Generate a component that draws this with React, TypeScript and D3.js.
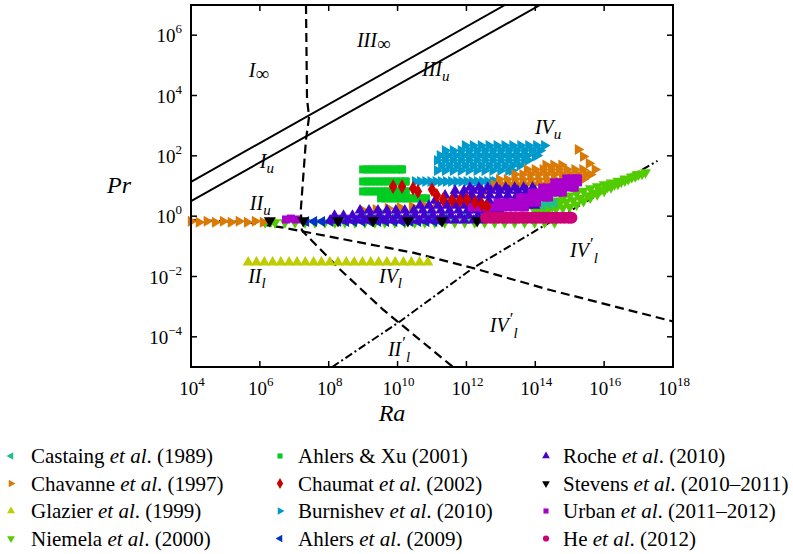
import React from "react";
import * as d3 from "d3";

type Pt = [number, number]; // [log10 Ra, log10 Pr]
type Row = [number, number[]]; // [log10 Pr, list of log10 Ra]

const raDomain: [number, number] = [1e4, 1e18];
const prDomain: [number, number] = [1e-5, 1e7];
const raTickExps = [4, 6, 8, 10, 12, 14, 16, 18];
const prTickExps = [-4, -2, 0, 2, 4, 6];

// regime boundaries (log10 Ra, log10 Pr)
const solidUpper: Pt[] = [[4, 1.14], [13.12, 7]];
const solidLower: Pt[] = [[4, 0.5], [14.14, 7]];
const dashedEpsU: Pt[] = [[7.34, 7], [7.37, 3.87], [7.43, 3.3], [7.34, 2.54], [7.19, 0.22], [7.22, -0.47], [8.33, -1.77], [9.58, -3.1], [11.61, -5]];
const dashedEpsTheta: Pt[] = [[4, -0.13], [5.6, -0.2], [6.64, -0.37], [7.22, -0.5], [10.45, -1.21], [12.19, -1.72], [14.34, -2.42], [18, -3.49]];
const dashDotLam: Pt[] = [[8.1, -5], [10.07, -3.49], [12.19, -1.72], [14.22, -0.34], [16, 0.82], [17.55, 1.83]];

// experimental data, as rows [log10 Pr, [log10 Ra ...]] or points
const castaingRows: Row[] = [
  [0.05, [9.0, 9.5, 10.0, 10.5, 11.0, 11.5, 12.0, 12.5]],
  [0.36, [14.2]], [0.4, [14.38]], [0.43, [14.55]],
];
const chavanneRows: Row[] = [
  [-0.17, [4.0, 4.46, 4.93, 5.39, 5.86]],
  [-0.2, [4.23, 4.7, 5.16, 5.63, 6.09]],
  [0.19, [9.0]], [0.22, [9.37]], [0.26, [9.72]], [0.29, [10.07]], [0.32, [10.42]], [0.35, [10.77]],
  [0.42, [11.12]], [0.49, [11.46]], [0.55, [11.81]], [0.65, [12.16]], [0.79, [12.51]],
  [1.05, [12.8, 13.03, 13.26, 13.49, 13.72, 13.95, 14.18, 14.41, 14.64]],
  [1.22, [12.95, 13.18, 13.41, 13.64, 13.87, 14.1, 14.33, 14.56, 14.79, 15.02, 15.25, 15.39]],
  [1.38, [13.4, 13.63, 13.86, 14.09, 14.32, 14.55, 14.78, 15.01, 15.24, 15.47, 15.6]],
  [1.55, [13.76, 13.99, 14.22, 14.45, 14.68, 14.91, 15.14, 15.37, 15.73]],
  [1.7, [14.3, 14.53, 14.76]],
  [2.21, [15.24]], [1.98, [15.39]], [1.75, [15.56]],
];
const glazierRows: Row[] = [
  [-1.53, [5.66, 5.9, 6.13, 6.37, 6.61, 6.85, 7.08, 7.32, 7.56, 7.79, 8.03, 8.27, 8.51, 8.74, 8.98, 9.22, 9.45, 9.69, 9.93, 10.17, 10.4, 10.64, 10.88]],
];
const niemelaPts: Pt[] = [
  [6.15, -0.21], [6.32, -0.18],
  [6.44, -0.21], [6.73, -0.21], [7.02, -0.21], [7.31, -0.21], [7.6, -0.21], [7.89, -0.21], [8.18, -0.21], [8.47, -0.21],
  [8.76, -0.21], [9.05, -0.21], [9.34, -0.21], [9.63, -0.21], [9.92, -0.21], [10.21, -0.21], [10.5, -0.21], [10.79, -0.21],
  [11.08, -0.21], [11.37, -0.21], [11.66, -0.21], [11.95, -0.21], [12.24, -0.21], [12.53, -0.21], [12.82, -0.21], [13.11, -0.21],
  [13.4, -0.21], [13.69, -0.21], [13.98, -0.21], [14.27, -0.21], [14.56, -0.21],
  [14.0, 0.28], [14.2, 0.34], [14.4, 0.42], [14.6, 0.51], [14.8, 0.6], [15.0, 0.68], [15.2, 0.76], [15.4, 0.84], [15.6, 0.92],
  [15.8, 0.99], [16.0, 1.05], [16.2, 1.11], [16.4, 1.17], [16.6, 1.24], [16.8, 1.31], [17.0, 1.38], [17.2, 1.45],
  [14.1, 0.22], [14.3, 0.28], [14.5, 0.33], [14.7, 0.43], [14.9, 0.47], [15.1, 0.52], [15.3, 0.6], [15.5, 0.69],
  [15.7, 0.78], [15.9, 0.88], [16.1, 0.97], [16.3, 1.05], [16.5, 1.14], [16.7, 1.23], [16.9, 1.32], [17.1, 1.4],
  [14.0, 0.15], [14.2, 0.19], [14.4, 0.22], [14.6, 0.25], [14.8, 0.28], [15.0, 0.31], [15.2, 0.38], [15.4, 0.5], [15.6, 0.61],
  [15.8, 0.72], [16.0, 0.84], [16.2, 0.95], [16.4, 1.07], [16.6, 1.18], [16.8, 1.29], [16.95, 1.38],
];
const ahlersXuRows: Row[] = [
  [1.55, [9.0, 9.12, 9.24, 9.36, 9.48, 9.6, 9.72, 9.84, 9.96, 10.08, 10.13]],
  [1.15, [9.0, 9.12, 9.24, 9.36, 9.48, 9.6, 9.72, 9.84, 9.96, 10.08, 10.2, 10.24]],
  [0.82, [9.0, 9.12, 9.24, 9.36, 9.48, 9.6, 9.72, 9.84, 9.96, 10.08, 10.2, 10.24]],
  [0.59, [9.52, 9.64, 9.76, 9.88, 10.0, 10.12, 10.24, 10.36, 10.48, 10.6, 10.72, 10.83]],
];
const chaumatPts: Pt[] = [
  [9.87, 0.98], [10.13, 0.98], [10.45, 0.92], [10.59, 0.82], [11.0, 0.88], [11.14, 0.69], [11.32, 0.55],
  [11.58, 0.52], [11.81, 0.52], [12.02, 0.55], [12.25, 0.45], [12.45, 0.39], [12.6, 0.32],
];
const burnishevRows: Row[] = [
  [1.51, [11.15, 11.38, 11.61, 11.84, 12.07, 12.3, 12.53, 12.76, 12.99, 13.22, 13.32]],
  [1.68, [11.27, 11.5, 11.73, 11.96, 12.19, 12.42, 12.65, 12.88, 13.11, 13.34, 13.55]],
  [1.85, [11.15, 11.38, 11.61, 11.84, 12.07, 12.3, 12.53, 12.76, 12.99, 13.22, 13.45, 13.68, 13.79]],
  [2.01, [11.23, 11.46, 11.69, 11.92, 12.15, 12.38, 12.61, 12.84, 13.07, 13.3, 13.53, 13.76, 13.99, 14.05]],
  [2.18, [11.38, 11.61, 11.84, 12.07, 12.3, 12.53, 12.76, 12.99, 13.22, 13.45, 13.68, 13.91, 14.14]],
  [2.34, [11.96, 12.19, 12.42, 12.65, 12.88, 13.11, 13.34, 13.57, 13.8, 14.03, 14.26]],
  [1.15, [10.51, 10.66, 10.81, 10.96, 11.11, 11.26, 11.41, 11.56, 11.71, 11.86, 12.01, 12.16, 12.31, 12.46, 12.61, 12.76, 12.83]],
];
const ahlers2009Rows: Row[] = [
  [-0.18, [7.34, 7.57, 7.8, 8.04, 8.27, 8.5, 8.73, 8.97, 9.2, 9.43, 9.66, 9.9, 10.13, 10.36, 10.59, 10.83, 11.06, 11.23]],
];
const rocheRows: Row[] = [
  [-0.14, [8.04, 8.3, 8.56, 8.82, 9.08, 9.34, 9.6, 9.86, 10.12, 10.38, 10.64, 10.9, 11.16, 11.42, 11.68, 11.94, 12.2, 12.39]],
  [0.02, [8.17, 8.43, 8.69, 8.95, 9.21, 9.47, 9.73, 9.99, 10.25, 10.51, 10.77, 11.03, 11.29, 11.55, 11.81, 12.07, 12.33]],
  [0.19, [8.91, 9.17, 9.43, 9.69, 9.95, 10.21, 10.47, 10.73, 10.99, 11.25, 11.51, 11.77, 12.03, 12.29, 12.55, 12.81, 12.97]],
  [0.35, [10.65, 10.91, 11.17, 11.43, 11.69, 11.95, 12.21, 12.47, 12.73, 12.99, 13.25, 13.51, 13.77, 13.99]],
  [0.52, [11.09, 11.35, 11.61, 11.87, 12.13, 12.39, 12.65, 12.91, 13.17, 13.43, 13.69, 13.95]],
  [0.69, [11.38, 11.64, 11.9, 12.16, 12.42, 12.68, 12.94, 13.2, 13.46, 13.72, 13.98]],
  [0.85, [11.67, 11.93, 12.19, 12.45, 12.71, 12.97, 13.23, 13.49, 13.75, 13.99]],
  [0.95, [12.1, 12.36, 12.62, 12.88, 13.14, 13.4, 13.66, 13.92]],
];
const stevensRows: Row[] = [[-0.15, [6.29, 7.26, 8.27, 9.29, 10.3, 11.29, 12.31]]];
const urbanRows: Row[] = [
  [-0.11, [6.76, 7.05]], [-0.08, [6.9]],
  [0.29, [12.16, 12.31, 12.46, 12.61, 12.76, 12.91, 13.06, 13.21, 13.36, 13.51, 13.66, 13.7]],
  [0.45, [12.9, 13.05, 13.2, 13.35, 13.5, 13.65, 13.8, 13.95, 14.05]],
  [0.62, [13.55, 13.7, 13.85, 14.0, 14.15, 14.3, 14.4]],
  [0.78, [13.9, 14.05, 14.2, 14.35, 14.5, 14.65, 14.8]],
  [0.95, [14.2, 14.35, 14.5, 14.65, 14.8, 14.95, 15.1, 15.15]],
  [1.12, [14.55, 14.7, 14.85, 15.0, 15.15, 15.24]],
  [1.25, [14.9, 15.05, 15.2, 15.24]],
];
const heRows: Row[] = [
  [-0.05, [12.57, 12.69, 12.81, 12.93, 13.05, 13.17, 13.29, 13.41, 13.53, 13.65, 13.77, 13.89, 14.01, 14.13, 14.25, 14.37, 14.49, 14.61, 14.73, 14.85, 14.97, 15.05]],
];

const fromRows = (rows: Row[]): Pt[] => rows.flatMap(([pr, ras]) => ras.map((ra) => [ra, pr] as Pt));

type Shape = "up" | "down" | "left" | "right" | "square" | "diamond" | "circle";
interface Series { name: string; italic?: string; after: string; color: string; shape: Shape; pts: Pt[]; size: number; col: number; row: number; }

const series: Series[] = [
  { name: "Castaing ", italic: "et al", after: ". (1989)", color: "#1fc08e", shape: "left", pts: fromRows(castaingRows), size: 52, col: 0, row: 0 },
  { name: "Chavanne ", italic: "et al", after: ". (1997)", color: "#d97a06", shape: "right", pts: fromRows(chavanneRows), size: 52, col: 0, row: 1 },
  { name: "Glazier ", italic: "et al", after: ". (1999)", color: "#bfcc00", shape: "up", pts: fromRows(glazierRows), size: 52, col: 0, row: 2 },
  { name: "Niemela ", italic: "et al", after: ". (2000)", color: "#52cc00", shape: "down", pts: niemelaPts, size: 52, col: 0, row: 3 },
  { name: "Ahlers & Xu (2001)", after: "", color: "#00cc22", shape: "square", pts: fromRows(ahlersXuRows), size: 64, col: 1, row: 0 },
  { name: "Chaumat ", italic: "et al", after: ". (2002)", color: "#cc0000", shape: "diamond", pts: chaumatPts, size: 62, col: 1, row: 1 },
  { name: "Burnishev ", italic: "et al", after: ". (2010)", color: "#0099cc", shape: "right", pts: fromRows(burnishevRows), size: 52, col: 1, row: 2 },
  { name: "Ahlers ", italic: "et al", after: ". (2009)", color: "#0033cc", shape: "left", pts: fromRows(ahlers2009Rows), size: 52, col: 1, row: 3 },
  { name: "Roche ", italic: "et al", after: ". (2010)", color: "#4400cc", shape: "up", pts: fromRows(rocheRows), size: 52, col: 2, row: 0 },
  { name: "Stevens ", italic: "et al", after: ". (2010–2011)", color: "#000000", shape: "down", pts: fromRows(stevensRows), size: 62, col: 2, row: 1 },
  { name: "Urban ", italic: "et al", after: ". (2011–2012)", color: "#aa00cc", shape: "square", pts: fromRows(urbanRows), size: 64, col: 2, row: 2 },
  { name: "He ", italic: "et al", after: ". (2012)", color: "#cc0077", shape: "circle", pts: fromRows(heRows), size: 113, col: 2, row: 3 },
];
const drawOrder = [3, 0, 2, 6, 4, 7, 1, 8, 10, 5, 9, 11];

interface RegionLabel { pos: Pt; main: string; sub?: string; inf?: boolean; prime?: boolean; }
const regionLabels: RegionLabel[] = [
  { pos: [5.68, 4.6], main: "I", inf: true },
  { pos: [8.82, 5.62], main: "III", inf: true },
  { pos: [10.71, 4.63], main: "III", sub: "u" },
  { pos: [6.0, 1.61], main: "I", sub: "u" },
  { pos: [5.71, 0.19], main: "II", sub: "u" },
  { pos: [13.99, 2.71], main: "IV", sub: "u" },
  { pos: [5.66, -2.2], main: "II", sub: "l" },
  { pos: [9.46, -2.2], main: "IV", sub: "l" },
  { pos: [15.01, -1.37], main: "IV", sub: "l", prime: true },
  { pos: [12.68, -3.85], main: "IV", sub: "l", prime: true },
  { pos: [9.72, -4.65], main: "II", sub: "l", prime: true },
];

const SERIF = '"Liberation Serif", "Times New Roman", Tinos, "DejaVu Serif", "Noto Serif", serif';
const L = 191, R = 673, T = 5, B = 367;
const x = d3.scaleLog().domain(raDomain).range([L, R]);
const y = d3.scaleLog().domain(prDomain).range([B, T]);
const px = (p: Pt) => x(Math.pow(10, p[0]));
const py = (p: Pt) => y(Math.pow(10, p[1]));
const line = d3.line<Pt>().x(px).y(py);

const symType = (s: Shape) =>
  s === "square" ? d3.symbolSquare : s === "diamond" ? d3.symbolDiamond : s === "circle" ? d3.symbolCircle : d3.symbolTriangle;
const symRot = (s: Shape) => (s === "down" ? 180 : s === "right" ? 90 : s === "left" ? -90 : 0);
const symPath = (s: Shape, size: number) => d3.symbol().type(symType(s)).size(size)() as string;

function Label({ l }: { l: RegionLabel }) {
  const X = px(l.pos), Y = py(l.pos);
  return (
    <text x={X} y={Y} style={{ fontFamily: SERIF, fontSize: 20, fontStyle: "italic" }} fill="#000">
      {l.main}
      {l.inf && <tspan style={{ fontStyle: "normal", fontSize: 19 }} dy={3}>∞</tspan>}
      {l.prime && <tspan style={{ fontStyle: "normal", fontSize: 17 }} dy={-8} dx={1}>′</tspan>}
      {l.sub && <tspan style={{ fontSize: 15 }} dy={l.prime ? 14 : 5}>{l.sub}</tspan>}
    </text>
  );
}

const legendColX = [11, 280, 546];
const legendTextX = [31, 298, 563];
const legendRowY = [463, 490.5, 518, 545.5];

export default function App() {
  const tickLen = 6;
  const fmt = (e: number) => (e < 0 ? "−" + Math.abs(e) : String(e));
  return (
    <svg width={793} height={554} style={{ position: "absolute", left: 0, top: 0, background: "#fff", fontFamily: SERIF }}>
      <defs>
        <clipPath id="plotclip"><rect x={L} y={T} width={R - L} height={B - T} /></clipPath>
      </defs>
      <rect x={0} y={0} width={793} height={554} fill="#fff" />
      <g clipPath="url(#plotclip)" fill="none" stroke="#000">
        <path d={line(solidUpper) as string} strokeWidth={2} />
        <path d={line(solidLower) as string} strokeWidth={2} />
        <path d={line(dashedEpsU) as string} strokeWidth={2.2} strokeDasharray="9,5" />
        <path d={line(dashedEpsTheta) as string} strokeWidth={2.2} strokeDasharray="9,5" />
        <path d={line(dashDotLam) as string} strokeWidth={2} strokeDasharray="8,3,2,3" />
      </g>
      <g>
        {drawOrder.map((i) => {
          const s = series[i];
          const d = symPath(s.shape, s.size);
          const rot = symRot(s.shape);
          return (
            <g key={i} fill={s.color}>
              {s.pts.map((p, j) => (
                <path key={j} d={d} transform={`translate(${px(p)},${py(p)}) rotate(${rot})`} />
              ))}
            </g>
          );
        })}
      </g>
      {regionLabels.map((l, i) => <Label key={i} l={l} />)}
      <rect x={L} y={T} width={R - L} height={B - T} fill="none" stroke="#000" strokeWidth={2} />
      <g stroke="#000" strokeWidth={1.5}>
        {raTickExps.map((e) => {
          const X = x(Math.pow(10, e));
          return (
            <g key={e}>
              <line x1={X} x2={X} y1={B} y2={B - tickLen} />
              <line x1={X} x2={X} y1={T} y2={T + tickLen} />
            </g>
          );
        })}
        {prTickExps.map((e) => {
          const Y = y(Math.pow(10, e));
          return (
            <g key={e}>
              <line x1={L} x2={L + tickLen} y1={Y} y2={Y} />
              <line x1={R} x2={R - tickLen} y1={Y} y2={Y} />
            </g>
          );
        })}
      </g>
      <g fill="#000" style={{ fontFamily: SERIF }}>
        {raTickExps.map((e) => (
          <text key={e} x={x(Math.pow(10, e)) + 1} y={395} textAnchor="middle" style={{ fontSize: 19 }}>
            10<tspan dy={-9} style={{ fontSize: 13 }}>{fmt(e)}</tspan>
          </text>
        ))}
        {prTickExps.map((e) => (
          <text key={e} x={182} y={y(Math.pow(10, e)) + 7} textAnchor="end" style={{ fontSize: 19 }}>
            10<tspan dy={-9} style={{ fontSize: 13 }}>{fmt(e)}</tspan>
          </text>
        ))}
        <text x={107} y={193} style={{ fontSize: 24, fontStyle: "italic" }}>Pr</text>
        <text x={392} y={421} textAnchor="middle" style={{ fontSize: 24, fontStyle: "italic" }}>Ra</text>
      </g>
      <g fill="#000" style={{ fontFamily: SERIF, fontSize: 21 }}>
        {series.map((s, i) => {
          const ty = legendRowY[s.row];
          return (
            <g key={i}>
              <path
                d={symPath(s.shape, s.shape === "circle" ? 30 : s.shape === "diamond" ? 34 : 26)}
                transform={`translate(${legendColX[s.col]},${ty - 7}) rotate(${symRot(s.shape)})`}
                fill={s.color}
              />
              <text x={legendTextX[s.col]} y={ty}>
                {s.name}
                {s.italic && <tspan style={{ fontStyle: "italic" }}>{s.italic}</tspan>}
                {s.after}
              </text>
            </g>
          );
        })}
      </g>
    </svg>
  );
}
